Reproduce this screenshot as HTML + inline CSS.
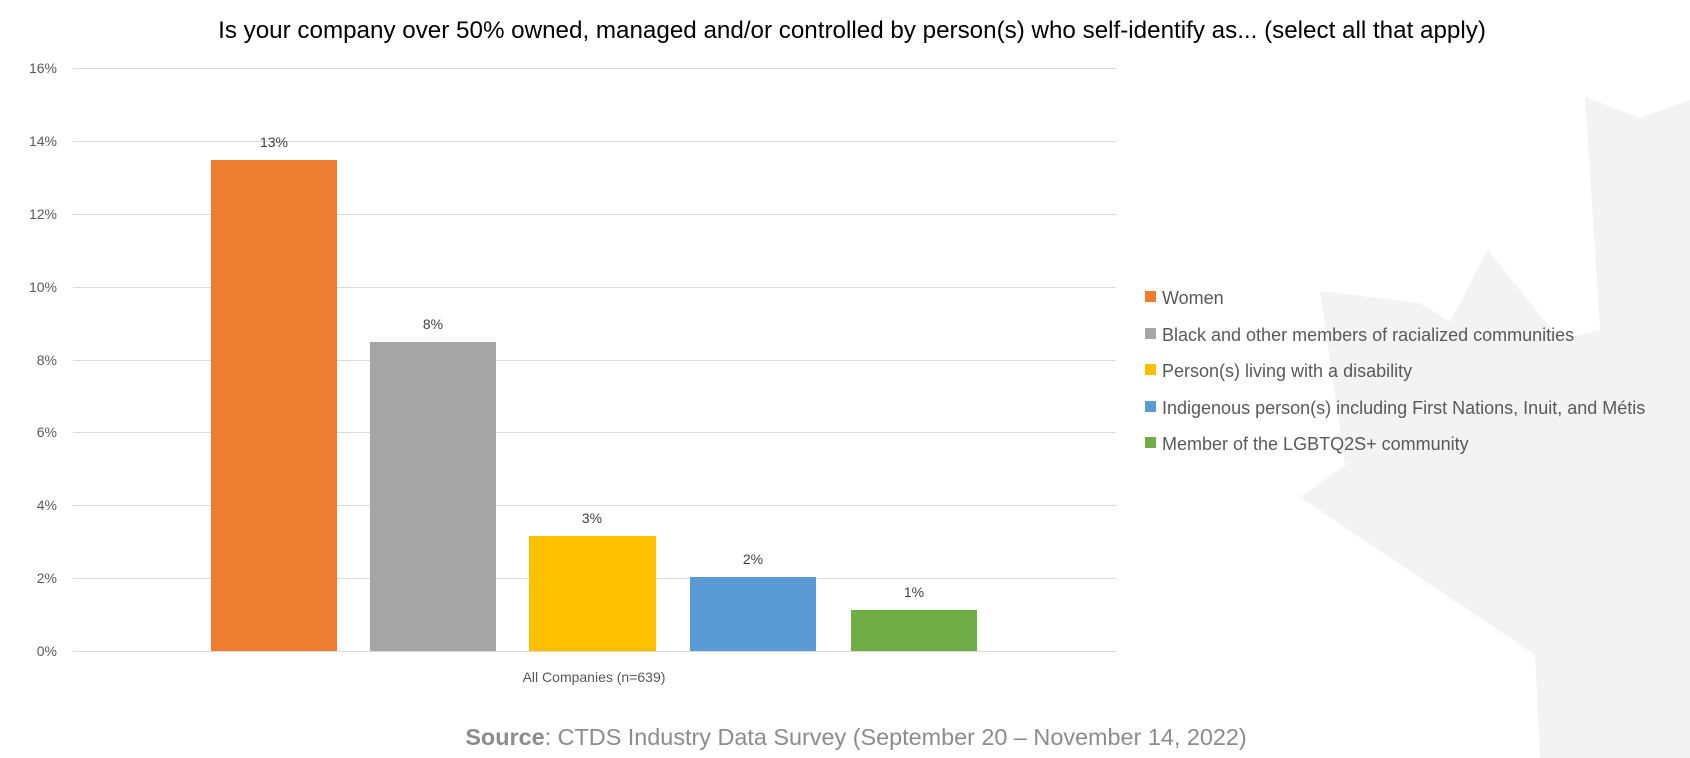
<!DOCTYPE html>
<html><head><meta charset="utf-8"><style>
html,body{margin:0;padding:0;background:#fff;}
svg{display:block;font-family:"Liberation Sans",Calibri,sans-serif;}
</style></head><body>
<svg width="1690" height="758" viewBox="0 0 1690 758" xmlns="http://www.w3.org/2000/svg">
<polygon fill="#f3f3f3" points="1585,97 1640,118 1690,100 1690,758 1540,758 1535,655 1300,497 1345,465 1320,291 1420,303 1450,322 1488,250 1560,340 1600,330"/>
<text x="852" y="38" font-size="24.2" text-anchor="middle" fill="#000">Is your company over 50% owned, managed and/or controlled by person(s) who self-identify as... (select all that apply)</text>
<g stroke="#d9d9d9" stroke-width="1">
<line x1="73" x2="1116" y1="68.5" y2="68.5"/>
<line x1="73" x2="1116" y1="141.5" y2="141.5"/>
<line x1="73" x2="1116" y1="214.5" y2="214.5"/>
<line x1="73" x2="1116" y1="287.5" y2="287.5"/>
<line x1="73" x2="1116" y1="360.5" y2="360.5"/>
<line x1="73" x2="1116" y1="432.5" y2="432.5"/>
<line x1="73" x2="1116" y1="505.5" y2="505.5"/>
<line x1="73" x2="1116" y1="578.5" y2="578.5"/>
<line x1="73" x2="1116" y1="651.5" y2="651.5"/>
</g>
<g font-size="14" fill="#595959" text-anchor="end">
<text x="57" y="73">16%</text><text x="57" y="146">14%</text><text x="57" y="219">12%</text>
<text x="57" y="292">10%</text><text x="57" y="365">8%</text><text x="57" y="437">6%</text>
<text x="57" y="510">4%</text><text x="57" y="583">2%</text><text x="57" y="656">0%</text>
</g>
<rect x="211" y="160" width="126" height="491" fill="#ed7d31"/>
<rect x="370" y="342" width="126" height="309" fill="#a5a5a5"/>
<rect x="529" y="536" width="127" height="115" fill="#ffc000"/>
<rect x="690" y="577" width="126" height="74" fill="#5b9bd5"/>
<rect x="851" y="610" width="126" height="41" fill="#70ad47"/>
<g font-size="14" fill="#404040" text-anchor="middle">
<text x="274" y="147">13%</text><text x="433" y="329">8%</text><text x="592" y="523">3%</text>
<text x="753" y="564">2%</text><text x="914" y="597">1%</text>
<text x="594" y="682" fill="#595959">All Companies (n=639)</text>
</g>
<g font-size="18" fill="#595959">
<rect x="1145" y="291" width="11" height="11" fill="#ed7d31"/><text x="1162" y="304">Women</text>
<rect x="1145" y="328" width="11" height="11" fill="#a5a5a5"/><text x="1162" y="341">Black and other members of racialized communities</text>
<rect x="1145" y="364" width="11" height="11" fill="#ffc000"/><text x="1162" y="377">Person(s) living with a disability</text>
<rect x="1145" y="401" width="11" height="11" fill="#5b9bd5"/><text x="1162" y="414">Indigenous person(s) including First Nations, Inuit, and Métis</text>
<rect x="1145" y="437" width="11" height="11" fill="#70ad47"/><text x="1162" y="450">Member of the LGBTQ2S+ community</text>
</g>
<text x="856" y="745" font-size="23.4" fill="#8c8c8c" text-anchor="middle"><tspan font-weight="bold">Source</tspan>: CTDS Industry Data Survey (September 20 – November 14, 2022)</text>
</svg>
</body></html>
